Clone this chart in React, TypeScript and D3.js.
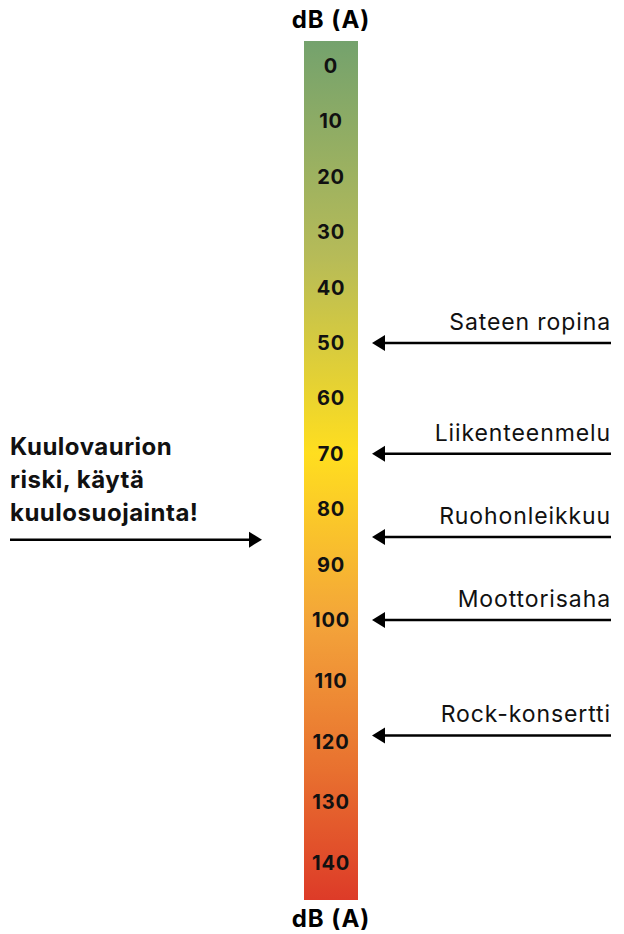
import React from 'react'
import { scaleLinear } from 'd3'

const ticks = [0, 10, 20, 30, 40, 50, 60, 70, 80, 90, 100, 110, 120, 130, 140]
const sources = ['Sateen ropina', 'Liikenteenmelu', 'Ruohonleikkuu', 'Moottorisaha', 'Rock-konsertti']
const sourceDb = [50, 70, 85, 100, 119]
const warningLines = ['Kuulovaurion', 'riski, käytä', 'kuulosuojainta!']
const warningDb = 85.5
const gradientStops = [
  { at: 0, c: '#74a26d' },
  { at: 0.25, c: '#b6bb58' },
  { at: 0.48, c: '#ffde1f' },
  { at: 0.68, c: '#f3a33a' },
  { at: 0.85, c: '#e8702f' },
  { at: 1, c: '#dd3b28' },
]

const W = 624
const H = 934
const font = 'Inter, "DejaVu Sans", sans-serif'

export default function App() {
  // label spacing is a bit wider above 100 dB
  const y = scaleLinear().domain([0, 100, 140]).range([66, 620, 863])
  const barX = 304
  const barW = 54
  const cx = barX + barW / 2

  const arrowHead = (tipX: number, ty: number, dir: number) =>
    `M${tipX},${ty} L${tipX + dir * 13},${ty - 8} L${tipX + dir * 13},${ty + 8} Z`

  return (
    <svg width={W} height={H} style={{ position: 'absolute', left: 0, top: 0 }}>
      <defs>
        <linearGradient id="db" x1="0" y1="0" x2="0" y2="1">
          {gradientStops.map((s, i) => (
            <stop key={i} offset={s.at} stopColor={s.c} />
          ))}
        </linearGradient>
      </defs>
      <text x={cx} y={28} textAnchor="middle" fontFamily={font} fontWeight={700} fontSize={24} letterSpacing={1}>dB (A)</text>
      <rect x={barX} y={41} width={barW} height={859} fill="url(#db)" />
      {ticks.map(t => (
        <text key={t} x={cx} y={y(t)} dy="0.35em" textAnchor="middle" fontFamily={font} fontWeight={700} fontSize={20} letterSpacing={0.8} fill="#111">{t}</text>
      ))}
      <text x={cx} y={927} textAnchor="middle" fontFamily={font} fontWeight={700} fontSize={24} letterSpacing={1}>dB (A)</text>

      {sources.map((s, i) => {
        const ay = y(sourceDb[i])
        return (
          <g key={s}>
            <text x={611} y={ay - 13} textAnchor="end" fontFamily={font} fontSize={23} letterSpacing={0.9} fill="#111">{s}</text>
            <line x1={382} x2={611} y1={ay} y2={ay} stroke="#000" strokeWidth={2.5} />
            <path d={arrowHead(372, ay, 1)} fill="#000" />
          </g>
        )
      })}

      {warningLines.map((l, i) => (
        <text key={i} x={10} y={455 + i * 33} fontFamily={font} fontWeight={700} fontSize={24} letterSpacing={0.5} fill="#111">{l}</text>
      ))}
      <line x1={10} x2={252} y1={y(warningDb)} y2={y(warningDb)} stroke="#000" strokeWidth={2.5} />
      <path d={arrowHead(262, y(warningDb), -1)} fill="#000" />
    </svg>
  )
}
